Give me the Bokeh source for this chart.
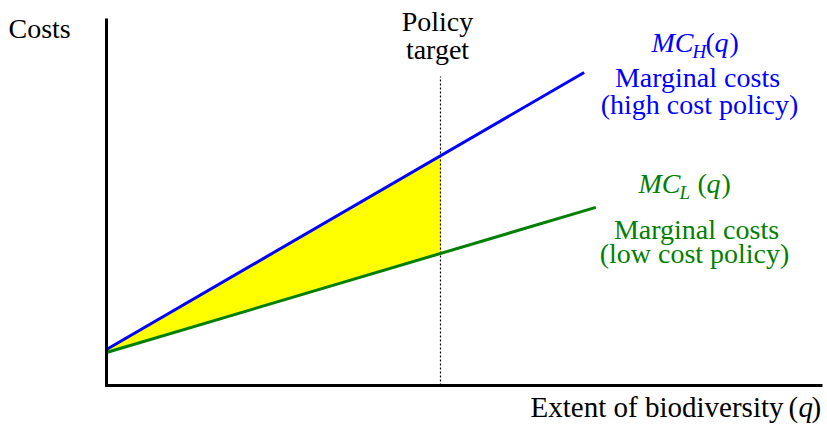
from bokeh.plotting import figure
from bokeh.models import Range1d
from bokeh.core.properties import value
from bokeh.embed import file_html
from bokeh.resources import INLINE

# ---- data ----
q_high = [0.0, 14.3]          # extent of biodiversity, high cost line
mc_high = [1.3, 11.3]         # marginal costs, high cost policy
q_low = [0.0, 14.65]          # extent of biodiversity, low cost line
mc_low = [1.19, 6.43]         # marginal costs, low cost policy
policy_target = [10.0]        # policy target q
q_fill = [0.0, 10.0]
fill_high = [1.3, 8.3]
fill_low = [1.19, 4.77]

BLUE = "#0000FF"
GREEN = "#008000"
FONT = value("Liberation Serif")

W, H = 827, 425
SX, SY = 33.4, 27.7   # pixels per data unit
OX, OY = 106, 385     # page pixel of the origin
DY = -10              # text baseline correction


def qx(px):
    return (px - OX) / SX


def cy(py):
    return (OY - py) / SY


p = figure(width=W, height=H,
           x_range=Range1d(qx(0), qx(W)), y_range=Range1d(cy(H), cy(0)),
           output_backend="svg", toolbar_location=None, min_border=0,
           x_axis_location=None, y_axis_location=None)
p.grid.visible = False
p.outline_line_color = None
p.background_fill_color = "white"

# shaded area
p.varea(x=q_fill, y1=fill_low, y2=fill_high, fill_color="#FFFF00")

# policy target dotted line
p.line([policy_target[0], policy_target[0]], [0, cy(76)], line_color="black",
       line_width=1.2, line_dash="2 2")

# marginal cost lines
p.line(q_high, mc_high, line_color=BLUE, line_width=3)
p.line(q_low, mc_low, line_color=GREEN, line_width=3)

# axes
p.line([0, 0], [0, cy(18)], line_color="black", line_width=3)
p.line([qx(104.5), qx(822)], [0, 0], line_color="black", line_width=3)


def txt(px, py, s, color="black", size="28px", align="left", style="normal"):
    p.text(x=[qx(px)], y=[cy(py + DY)], text=[s], text_color=color, text_font=FONT,
           text_font_size=size, text_align=align, text_baseline="alphabetic",
           text_font_style=style)


txt(8, 38, "Costs")
txt(437, 31, "Policy", align="center")
txt(437, 59, "target", align="center")
txt(783, 416, "Extent of biodiversity", align="right", size="29px")
txt(788, 416, "(", size="29px")
txt(798, 416, "q", style="italic", size="29px")
txt(811, 416, ")", size="29px")

# high-cost label
txt(651, 52, "MC", BLUE, style="italic")
txt(692, 61, "H", BLUE, size="19px", style="italic")
txt(705, 52, "(", BLUE)
txt(714, 52, "q", BLUE, style="italic")
txt(729, 52, ")", BLUE)
txt(697, 87, "Marginal costs", BLUE, align="center")
txt(699, 114, "(high cost policy)", BLUE, align="center")

# low-cost label
txt(638, 193, "MC", GREEN, style="italic")
txt(679, 202, "L", GREEN, size="19px", style="italic")
txt(697, 193, "(", GREEN)
txt(706, 193, "q", GREEN, style="italic")
txt(721, 193, ")", GREEN)
txt(696, 239, "Marginal costs", GREEN, align="center")
txt(694, 263, "(low cost policy)", GREEN, align="center")

open("out.html", "w").write(file_html(p, INLINE))
